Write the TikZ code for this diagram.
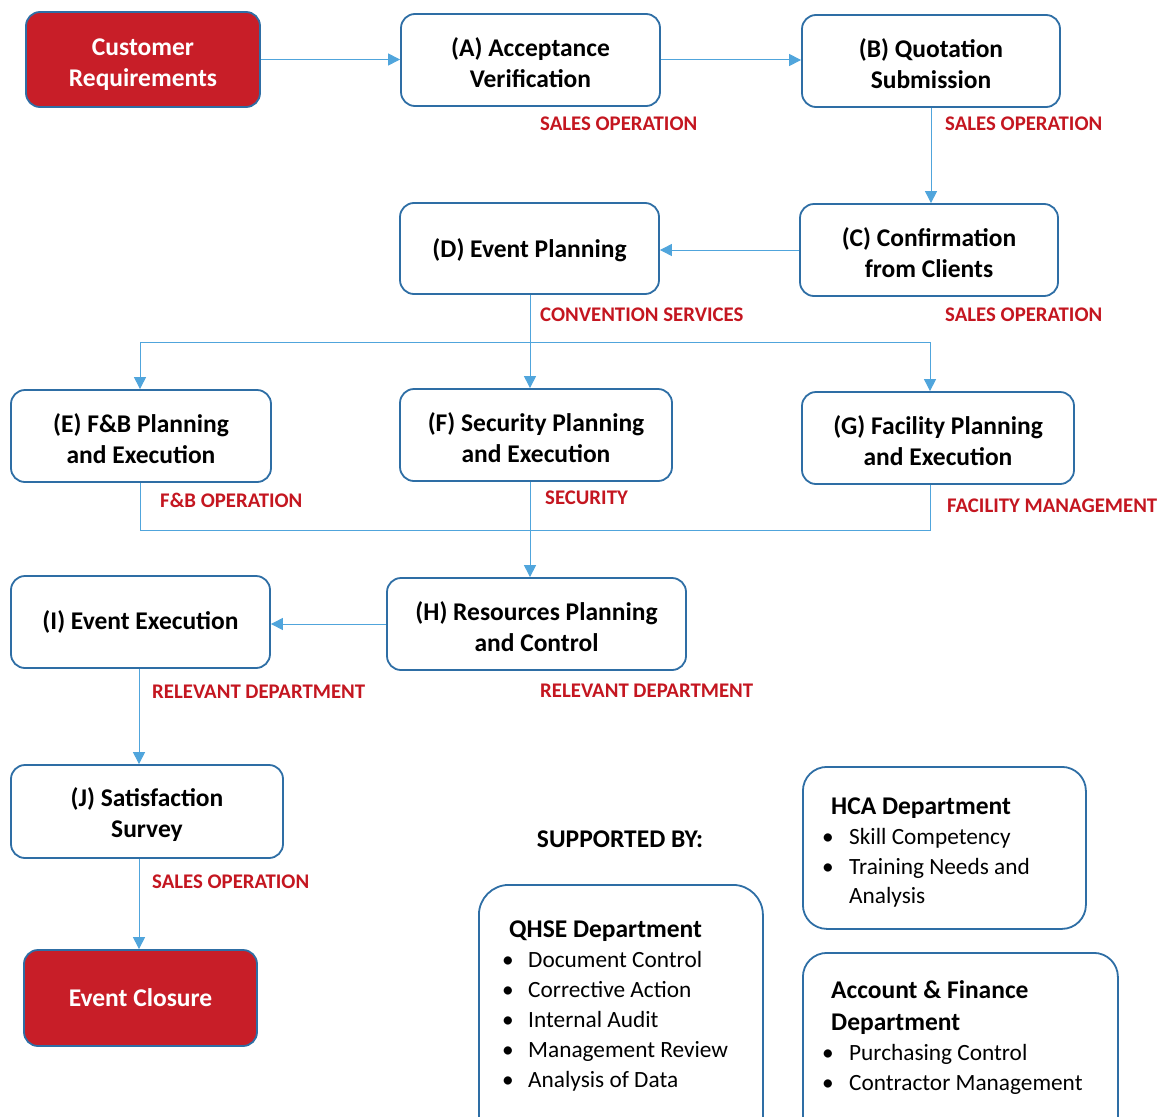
\documentclass[tikz,border=0pt]{standalone}
\usepackage{fontspec}
\setmainfont{Carlito}
\usetikzlibrary{arrows.meta}
\definecolor{boxblue}{RGB}{46,110,165}
\definecolor{connblue}{RGB}{80,165,220}
\definecolor{labred}{RGB}{196,22,32}
\definecolor{boxred}{RGB}{200,30,40}
\newcommand\mylift[1]{\rule{0pt}{#1}}
\begin{document}
\begin{tikzpicture}[x=1pt,y=-1pt,
  box/.style={draw=boxblue, line width=1.8pt, rounded corners=14pt, align=center, inner sep=0pt,
    font=\fontsize{25.5}{31}\selectfont\bfseries},
  redbox/.style={box, fill=boxred, text=white},
  supbox/.style={draw=boxblue, line width=1.8pt, rounded corners=24pt, inner sep=0pt, anchor=north west},
  lab/.style={anchor=west, inner sep=0pt, text=labred, font=\fontsize{20.8}{22}\selectfont\bfseries},
  conn/.style={draw=connblue, line width=1pt},
  arr/.style={conn, -{Triangle[length=12pt,width=12pt]}},
  stitle/.style={anchor=base west, inner sep=0pt, font=\fontsize{25.5}{28}\selectfont\bfseries},
  sitem/.style={anchor=base west, inner sep=0pt, font=\fontsize{23.3}{26}\selectfont},
]
\useasboundingbox (0,0) rectangle (1166,1116);

% process boxes
\node[redbox, minimum width=234pt, minimum height=95pt] (CR) at (143,59.5) {\mylift{28pt}Customer\\Requirements};
\node[box, minimum width=259pt, minimum height=92pt] (A) at (530.5,60) {\mylift{24pt}(A) Acceptance\\Verification};
\node[box, minimum width=258pt, minimum height=92pt] (B) at (931,61) {\mylift{24pt}(B) Quotation\\Submission};
\node[box, minimum width=258pt, minimum height=92pt] (C) at (929,250) {\mylift{24pt}(C) Confirmation\\from Clients};
\node[box, minimum width=259pt, minimum height=91pt] (D) at (529.5,248.5) {\mylift{23pt}(D) Event Planning};
\node[box, minimum width=260pt, minimum height=92pt] (E) at (141,436) {\mylift{24pt}(E) F\&B Planning\\and Execution};
\node[box, minimum width=272pt, minimum height=92pt] (F) at (536,435) {\mylift{24pt}(F) Security Planning\\and Execution};
\node[box, minimum width=272pt, minimum height=92pt] (G) at (938,438) {\mylift{24pt}(G) Facility Planning\\and Execution};
\node[box, minimum width=299pt, minimum height=92pt] (H) at (536.5,624) {\mylift{24pt}(H) Resources Planning\\and Control};
\node[box, minimum width=259pt, minimum height=92pt] (I) at (140.5,622) {(I) Event Execution};
\node[box, minimum width=272pt, minimum height=93pt] (J) at (147,811.5) {\mylift{24pt}(J) Satisfaction\\Survey};
\node[redbox, minimum width=233pt, minimum height=96pt] (EC) at (140.5,998) {Event Closure};

% labels
\node[lab] (lA) at (540,124) {SALES OPERATION};
\node[lab] (lB) at (945,124) {SALES OPERATION};
\node[lab] (lD) at (540,315) {CONVENTION SERVICES};
\node[lab] (lC) at (945,315) {SALES OPERATION};
\node[lab] (lE) at (160,500) {F\&B OPERATION};
\node[lab] (lF) at (545,498) {SECURITY};
\node[lab] (lG) at (947,506) {FACILITY MANAGEMENT};
\node[lab] (lI) at (152,692) {RELEVANT DEPARTMENT};
\node[lab] (lH) at (540,691) {RELEVANT DEPARTMENT};
\node[lab] (lJ) at (152,882) {SALES OPERATION};

% connectors
\draw[arr] (CR.east) -- (CR.east -| A.west);
\draw[arr] (A.east) -- (A.east -| B.west);
\draw[arr] (B.south) -- (B.south |- C.north);
\draw[arr] (C.west) -- (C.west -| D.east);
\coordinate (dx) at (530,342);
\coordinate (s1) at (140,342);
\coordinate (s2) at (930,342);
\draw[arr] (dx |- D.south) -- (dx |- F.north);
\draw[conn] (s1) -- (s2);
\draw[arr] (s1) -- (s1 |- E.north);
\draw[arr] (s2) -- (s2 |- G.north);
\coordinate (m1) at (140,530);
\coordinate (m2) at (930,530);
\coordinate (fx) at (530,530);
\draw[conn] (m1 |- E.south) -- (m1) -- (m2) -- (m2 |- G.south);
\draw[arr] (fx |- F.south) -- (fx |- H.north);
\draw[arr] (H.west) -- (H.west -| I.east);
\coordinate (ix) at (139,700);
\draw[arr] (ix |- I.south) -- (ix |- J.north);
\draw[arr] (ix |- J.south) -- (ix |- EC.north);

% supported by
\node[inner sep=0pt, font=\fontsize{25.5}{28}\selectfont\bfseries] (sup) at (620,839) {SUPPORTED BY:};
\begin{scope}
\clip (0,0) rectangle (1166,1116);
\node[supbox, rounded corners=30pt, minimum width=284pt, minimum height=262pt] (QB) at (478,884) {};
\node[supbox, minimum width=283pt, minimum height=162pt] (HB) at (802,766) {};
\node[supbox, minimum width=315pt, minimum height=200pt] (AB) at (802,952) {};
\end{scope}

\node[stitle] (qt) at (509,937) {QHSE Department};
\foreach \t [count=\k] in {Document Control, Corrective Action, Internal Audit, Management Review, Analysis of Data}
  \node[sitem] (q\k) at (502,{937+30*\k}) {\makebox[26pt][l]{\textbullet}\t};

\node[stitle] (ht) at (831,814) {HCA Department};
\node[sitem] (h1) at (822,844) {\makebox[27pt][l]{\textbullet}Skill Competency};
\node[sitem] (h2) at (822,874) {\makebox[27pt][l]{\textbullet}Training Needs and};
\node[sitem] (h3) at (849,903) {Analysis};

\node[stitle] (at1) at (831,998) {Account \& Finance};
\node[stitle] (at2) at (831,1030) {Department};
\node[sitem] (a1) at (822,1060) {\makebox[27pt][l]{\textbullet}Purchasing Control};
\node[sitem] (a2) at (822,1090) {\makebox[27pt][l]{\textbullet}Contractor Management};
\end{tikzpicture}
\end{document}
